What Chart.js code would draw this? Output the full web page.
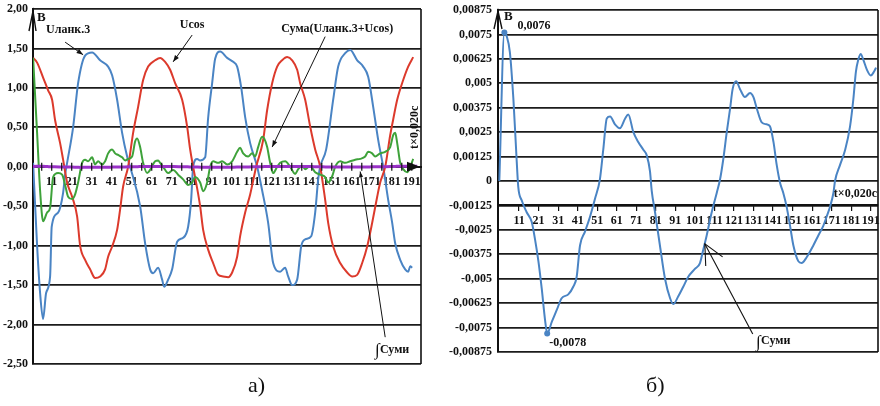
<!DOCTYPE html>
<html>
<head>
<meta charset="utf-8">
<script src="https://cdn.jsdelivr.net/npm/chart.js@4.4.0/dist/chart.umd.min.js"></script>
<style>
  body { margin: 0; background: #fff; width: 880px; height: 406px; position: relative; overflow: hidden; }
  .box { position: absolute; top: 0; }
  .cap { position: absolute; font: 22px "Liberation Serif", serif; color: #111; }
</style>
</head>
<body>
<div class="box" style="left:0"><canvas id="left" width="430" height="406"></canvas></div>
<div class="box" style="left:440px"><canvas id="right" width="440" height="406"></canvas></div>
<div class="cap" style="left:248px;top:372px">а)</div>
<div class="cap" style="left:646px;top:372px">б)</div>
<script>
// sample index (t x 0,020c) and voltages
const blueX = [1.7, 3.7, 5.2, 6.7, 8.2, 10.2, 11.0, 14.2, 16.7, 17.7, 18.7, 21.7, 24.2, 27.7, 31.2, 35.2, 39.2, 41.2, 43.7, 46.2, 48.7, 50.2, 55.2, 57.7, 60.2, 61.7, 64.2, 66.2, 67.2, 69.2, 71.2, 73.7, 76.7, 79.2, 80.7, 81.7, 83.7, 85.2, 87.7, 89.2, 91.2, 92.7, 95.2, 98.7, 101.7, 103.7, 105.7, 107.7, 110.2, 113.7, 116.2, 119.2, 121.7, 125.2, 127.7, 129.2, 131.2, 133.7, 135.7, 137.7, 140.7, 142.7, 144.2, 145.2, 148.2, 151.7, 154.2, 157.7, 160.2, 163.7, 166.7, 169.2, 171.7, 174.2, 176.7, 179.2, 181.2, 182.7, 185.2, 187.7, 189.2, 190.2, 191.2];
const blueY = [0.05, -1.0, -1.6, -1.93, -1.6, -1.39, -0.76, -0.58, -0.33, -0.1, 0.05, 0.5, 1.06, 1.41, 1.45, 1.35, 1.27, 1.16, 0.85, 0.43, 0.13, 0, -0.5, -0.97, -1.3, -1.35, -1.28, -1.43, -1.52, -1.43, -1.3, -0.95, -0.9, -0.76, -0.42, 0, 0.1, 0.08, 0.12, 0.62, 1.06, 1.37, 1.46, 1.38, 1.33, 1.27, 1.01, 0.63, 0.3, 0, -0.3, -0.71, -1.22, -1.33, -1.28, -1.39, -1.5, -1.43, -1.01, -0.92, -0.88, -0.58, -0.16, 0, 0.22, 0.85, 1.27, 1.44, 1.48, 1.35, 1.27, 1.14, 0.76, 0.34, 0, -0.42, -0.71, -0.97, -1.18, -1.3, -1.33, -1.26, -1.28];

const redX = [1.7, 3.7, 6.7, 9.2, 11.2, 12.7, 15.2, 16.7, 18.7, 21.2, 23.7, 25.2, 27.7, 30.2, 32.7, 35.2, 37.7, 39.2, 41.2, 43.7, 45.2, 46.7, 49.2, 51.7, 54.2, 56.7, 59.2, 62.7, 65.2, 67.7, 70.2, 72.7, 76.2, 78.7, 80.2, 81.7, 85.2, 86.7, 89.2, 91.7, 94.2, 96.7, 99.2, 101.2, 103.7, 105.2, 107.7, 110.2, 113.2, 116.7, 118.7, 121.2, 123.7, 126.2, 128.7, 131.2, 133.7, 135.2, 137.7, 140.2, 142.7, 145.2, 147.7, 149.2, 151.7, 155.2, 158.7, 161.2, 163.7, 166.2, 168.7, 171.2, 173.7, 175.2, 177.7, 180.2, 181.7, 183.7, 186.7, 189.2, 191.7];
const redY = [1.38, 1.32, 1.13, 0.97, 0.85, 0.59, 0.3, 0.09, -0.2, -0.38, -0.63, -1.0, -1.18, -1.3, -1.41, -1.39, -1.3, -1.14, -1.01, -0.8, -0.54, -0.25, 0, 0.43, 0.76, 1.1, 1.27, 1.35, 1.38, 1.33, 1.23, 1.06, 0.85, 0.51, 0.22, 0, -0.5, -0.8, -1.05, -1.22, -1.37, -1.39, -1.4, -1.34, -1.14, -0.88, -0.58, -0.35, 0, 0.34, 0.72, 1.06, 1.27, 1.35, 1.39, 1.35, 1.23, 1.06, 0.85, 0.51, 0.22, 0, -0.42, -0.71, -1.01, -1.22, -1.34, -1.39, -1.37, -1.22, -1.01, -0.71, -0.38, -0.2, 0, 0.4, 0.6, 0.85, 1.1, 1.27, 1.39];

const greenX = [1.7, 3.7, 5.2, 6.7, 8.7, 10.2, 11.7, 14.2, 16.2, 17.7, 19.2, 21.2, 22.7, 24.2, 26.2, 27.7, 29.2, 31.2, 32.7, 34.2, 36.2, 37.7, 39.2, 41.2, 42.7, 44.2, 46.2, 47.7, 49.2, 51.2, 52.7, 53.7, 55.2, 56.7, 58.7, 60.2, 62.7, 64.2, 65.2, 66.7, 69.2, 71.7, 74.2, 76.7, 79.2, 81.2, 82.7, 85.2, 86.7, 88.7, 90.2, 91.7, 94.2, 96.2, 98.7, 101.2, 103.7, 105.2, 106.7, 109.2, 111.2, 112.7, 114.2, 116.2, 117.2, 118.7, 120.2, 121.7, 123.7, 125.2, 127.7, 130.2, 132.7, 134.2, 136.2, 137.7, 140.2, 142.7, 145.2, 147.7, 149.2, 151.2, 152.7, 155.2, 157.7, 160.2, 162.7, 165.2, 167.7, 169.2, 171.2, 172.7, 175.2, 177.7, 180.2, 181.7, 182.7, 183.7, 185.2, 186.7, 188.7, 190.2, 191.7];
const greenY = [1.38, 0.43, -0.3, -0.69, -0.58, -0.52, -0.13, -0.08, -0.1, -0.23, -0.38, -0.41, -0.35, -0.2, 0.05, 0.09, 0.07, 0.12, 0.03, 0.07, 0.03, 0.07, 0.17, 0.22, 0.17, 0.15, 0.12, 0.08, 0.1, 0.13, 0.32, 0.36, 0.25, 0.05, -0.08, -0.04, 0.07, 0.08, 0.05, 0, -0.08, -0.04, -0.1, -0.16, -0.23, -0.2, -0.13, -0.2, -0.31, -0.2, 0, 0.07, 0.05, 0.07, 0.03, 0.07, 0.19, 0.24, 0.17, 0.13, 0.17, 0.13, 0.25, 0.38, 0.36, 0.25, 0.05, -0.08, 0, 0.05, 0.07, 0, -0.09, -0.03, 0.01, -0.03, 0.01, -0.07, -0.1, -0.13, -0.2, -0.12, 0, 0.07, 0.05, 0.07, 0.09, 0.1, 0.13, 0.19, 0.17, 0.13, 0.17, 0.19, 0.25, 0.4, 0.43, 0.3, 0.05, -0.03, -0.07, 0, 0.1];

// integral of the sum (right chart, also the flat purple line on the left)
const intX = [0.9, 3.5, 4.7, 6.3, 8.1, 9.5, 10.6, 12.4, 14.9, 17.5, 19.2, 20.9, 22.6, 24.3, 25.4, 27.8, 30.3, 32.8, 36.2, 38.8, 40.5, 42.2, 44.7, 47.4, 49.9, 52.4, 54.1, 55.9, 57.6, 60.1, 62.6, 65.3, 66.9, 69.5, 72.0, 74.6, 76.4, 78.0, 78.9, 80.6, 83.1, 85.7, 88.3, 89.9, 92.5, 95.1, 97.6, 101.0, 103.6, 105.3, 107.0, 109.6, 112.2, 113.9, 115.5, 117.3, 119.0, 120.3, 122.1, 124.1, 126.6, 129.2, 130.9, 132.7, 135.2, 137.7, 139.4, 141.2, 142.9, 144.6, 146.2, 147.9, 149.7, 151.4, 153.9, 155.6, 158.2, 161.6, 164.1, 166.7, 168.5, 170.2, 171.9, 172.7, 175.2, 177.9, 180.4, 182.1, 183.4, 184.6, 185.8, 187.2, 189.0, 191.0, 192.7, 193.7];
const intY = [0, 0.0076, 0.0074, 0.0066, 0.0042, 0.0016, -0.0003, -0.001, -0.0016, -0.0021, -0.003, -0.0041, -0.0055, -0.0071, -0.0078, -0.0072, -0.0066, -0.006, -0.0058, -0.0054, -0.0049, -0.0033, -0.0026, -0.0018, -0.0009, 0.0001, 0.0016, 0.0032, 0.0033, 0.0029, 0.0027, 0.0032, 0.0034, 0.0025, 0.002, 0.0016, 0.0013, 0.0005, -0.0005, -0.0016, -0.0033, -0.005, -0.006, -0.0063, -0.0059, -0.0054, -0.0049, -0.0045, -0.0042, -0.0035, -0.0028, -0.0016, -0.0006, 0.0001, 0.0011, 0.0025, 0.0037, 0.0047, 0.0051, 0.0047, 0.0043, 0.0045, 0.0043, 0.0037, 0.003, 0.0029, 0.0028, 0.002, 0.0008, -0.0001, -0.0006, -0.0013, -0.0023, -0.0033, -0.0041, -0.0042, -0.0039, -0.0033, -0.0028, -0.0023, -0.0018, -0.0013, -0.0006, 0, 0.0008, 0.0016, 0.0028, 0.0042, 0.0056, 0.0062, 0.0065, 0.0062, 0.0057, 0.0054, 0.0056, 0.0058];

// tick labels
const xTicks = [11, 21, 31, 41, 51, 61, 71, 81, 91, 101, 111, 121, 131, 141, 151, 161, 171, 181, 191];
const leftYTicks = [-2.5, -2, -1.5, -1, -0.5, 0, 0.5, 1, 1.5, 2];
const leftYLabels = ['-2,50', '-2,00', '-1,50', '-1,00', '-0,50', '0,00', '0,50', '1,00', '1,50', '2,00'];
const rightYTicks = [-0.00875, -0.0075, -0.00625, -0.005, -0.00375, -0.0025, -0.00125, 0, 0.00125, 0.0025, 0.00375, 0.005, 0.00625, 0.0075, 0.00875];
const rightYLabels = ['-0,00875', '-0,0075', '-0,00625', '-0,005', '-0,00375', '-0,0025', '-0,00125', '0', '0,00125', '0,0025', '0,00375', '0,005', '0,00625', '0,0075', '0,00875'];

const SERIF = '"Liberation Serif", "Times New Roman", serif';
const INK = '#111';
const pts = (xs, ys) => xs.map((x, k) => ({ x, y: ys[k] }));

function arrow(ctx, x1, y1, x2, y2, len, spread, filled) {
    const a = Math.atan2(y2 - y1, x2 - x1);
    ctx.beginPath(); ctx.moveTo(x1, y1); ctx.lineTo(x2, y2); ctx.stroke();
    ctx.beginPath();
    ctx.moveTo(x2 - len * Math.cos(a - spread), y2 - len * Math.sin(a - spread));
    ctx.lineTo(x2, y2);
    ctx.lineTo(x2 - len * Math.cos(a + spread), y2 - len * Math.sin(a + spread));
    if (filled) { ctx.closePath(); ctx.fill(); } else { ctx.stroke(); }
}

function integralLabel(ctx, text, px, py) {
    ctx.font = '17px ' + SERIF;
    ctx.fillText('∫', px, py + 1);
    ctx.font = 'bold 12px ' + SERIF;
    ctx.fillText(text, px + 5, py);
}

// callouts in data coordinates
const leftNotes = [
    { text: 'Uланк.3', x: 19.2, y: 1.73, from: [17.7, 1.58], to: [26.7, 1.42] },
    { text: 'Ucos', x: 81.2, y: 1.80, from: [81.2, 1.67], to: [71.7, 1.33] },
    { text: 'Сума(Uланк.3+Ucos)', x: 153.7, y: 1.75, from: [147.7, 1.65], to: [121.2, 0.25] }
];

const leftDeco = {
    id: 'leftDeco',
    afterDraw(chart) {
        const { ctx, chartArea: a, scales: { x, y } } = chart;
        const y0 = y.getPixelForValue(0);
        ctx.save();
        ctx.strokeStyle = INK; ctx.fillStyle = INK; ctx.lineWidth = 1.6;
        ctx.beginPath(); ctx.moveTo(a.right, a.top); ctx.lineTo(a.right, a.bottom); ctx.stroke();
        // tick marks crossing the time axis
        ctx.lineWidth = 1.2;
        xTicks.forEach(v => {
            [v - 5, v].forEach(t => {
                const px = x.getPixelForValue(t);
                ctx.beginPath(); ctx.moveTo(px, y0 - 4); ctx.lineTo(px, y0 + 4); ctx.stroke();
            });
        });
        // axis arrows
        ctx.lineWidth = 1.4;
        ctx.beginPath();
        ctx.moveTo(a.left - 4, a.top + 22); ctx.lineTo(a.left, a.top + 2); ctx.lineTo(a.left + 3, a.top + 22);
        ctx.stroke();
        ctx.beginPath();
        ctx.moveTo(a.right - 1, y0); ctx.lineTo(a.right - 14, y0 - 5); ctx.lineTo(a.right - 14, y0 + 5);
        ctx.closePath(); ctx.fill();
        ctx.font = 'bold 13px ' + SERIF;
        ctx.textAlign = 'left'; ctx.textBaseline = 'middle';
        ctx.fillText('В', a.left + 4, y.getPixelForValue(1.89));
        // rotated time label
        ctx.save();
        ctx.translate(x.getPixelForValue(192.4), y.getPixelForValue(0.5));
        ctx.rotate(-Math.PI / 2);
        ctx.font = 'bold 12px ' + SERIF;
        ctx.textAlign = 'center';
        ctx.fillText('t×0,020с', 0, 0);
        ctx.restore();
        // callouts
        ctx.lineWidth = 1;
        ctx.font = 'bold 12px ' + SERIF;
        ctx.textAlign = 'center';
        leftNotes.forEach(n => {
            ctx.fillText(n.text, x.getPixelForValue(n.x), y.getPixelForValue(n.y));
            arrow(ctx, x.getPixelForValue(n.from[0]), y.getPixelForValue(n.from[1]),
                x.getPixelForValue(n.to[0]), y.getPixelForValue(n.to[1]), 7, 0.35, true);
        });
        arrow(ctx, x.getPixelForValue(177.7), y.getPixelForValue(-2.16),
            x.getPixelForValue(165.2), y.getPixelForValue(-0.06), 6, 0.35, true);
        ctx.textAlign = 'left';
        integralLabel(ctx, 'Суми', x.getPixelForValue(172.6), y.getPixelForValue(-2.32));
        ctx.restore();
    }
};

const rightDeco = {
    id: 'rightDeco',
    afterDraw(chart) {
        const { ctx, chartArea: a, scales: { x, y } } = chart;
        ctx.save();
        ctx.strokeStyle = INK; ctx.fillStyle = INK; ctx.lineWidth = 1.6;
        ctx.beginPath(); ctx.moveTo(a.right, a.top); ctx.lineTo(a.right, a.bottom); ctx.stroke();
        ctx.lineWidth = 1.4;
        ctx.beginPath();
        ctx.moveTo(a.left - 4, a.top + 19); ctx.lineTo(a.left, a.top + 1); ctx.lineTo(a.left + 4, a.top + 19);
        ctx.stroke();
        ctx.font = 'bold 13px ' + SERIF;
        ctx.textBaseline = 'middle'; ctx.textAlign = 'left';
        ctx.fillText('В', a.left + 6, y.getPixelForValue(0.0084));
        // peak / trough values
        const iMax = intY.indexOf(Math.max(...intY));
        const iMin = intY.indexOf(Math.min(...intY));
        const fmt = v => String(v).replace('.', ',');
        ctx.font = 'bold 12px ' + SERIF;
        ctx.fillText(fmt(intY[iMax]), x.getPixelForValue(intX[iMax]) + 13, y.getPixelForValue(intY[iMax]) - 7);
        ctx.fillText(fmt(intY[iMin]), x.getPixelForValue(intX[iMin]) + 2, y.getPixelForValue(intY[iMin]) + 9);
        ctx.textAlign = 'right';
        ctx.fillText('t×0,020с', a.right - 1, y.getPixelForValue(-0.00067));
        ctx.textAlign = 'left';
        ctx.lineWidth = 1.1;
        arrow(ctx, x.getPixelForValue(130.6), y.getPixelForValue(-0.00783),
            x.getPixelForValue(106.1), y.getPixelForValue(-0.00322), 22, 0.45, false);
        integralLabel(ctx, 'Суми', x.getPixelForValue(132.3), y.getPixelForValue(-0.00819));
        ctx.restore();
    }
};

const lineBase = { borderWidth: 2, pointRadius: 0, cubicInterpolationMode: 'monotone', fill: false };

new Chart(document.getElementById('left'), {
    type: 'line',
    data: {
        datasets: [
            { ...lineBase, label: '∫Суми', data: pts(intX, intY), borderColor: '#9a32c8', borderWidth: 3 },
            { ...lineBase, label: 'Сума(Uланк.3+Ucos)', data: pts(greenX, greenY), borderColor: '#3ea23a' },
            { ...lineBase, label: 'Ucos', data: pts(redX, redY), borderColor: '#dc3a2c' },
            { ...lineBase, label: 'Uланк.3', data: pts(blueX, blueY), borderColor: '#4a84c4' }
        ]
    },
    options: {
        responsive: false,
        animation: false,
        layout: { padding: { top: 9, right: 9, bottom: 42, left: 0 } },
        plugins: { legend: { display: false }, tooltip: { enabled: false } },
        scales: {
            x: {
                type: 'linear',
                position: { y: 0 },
                min: 1.65, max: 195.6,
                afterBuildTicks: s => { s.ticks = xTicks.map(v => ({ value: v })); },
                afterFit: s => { s.paddingLeft = 0; s.paddingRight = 0; },
                grid: { drawOnChartArea: false, drawTicks: false },
                border: { color: INK, width: 2 },
                ticks: { color: INK, padding: 8, maxRotation: 0, autoSkip: false,
                    font: { family: SERIF, size: 12, weight: 'bold' } }
            },
            y: {
                min: -2.5, max: 2,
                afterBuildTicks: s => { s.ticks = leftYTicks.map(v => ({ value: v })); },
                afterFit: s => { s.width = 33; s.paddingTop = 0; s.paddingBottom = 0; },
                grid: { color: '#1c1c1c', lineWidth: 1.8, drawTicks: false },
                border: { color: INK, width: 2 },
                ticks: { color: INK, padding: 5, autoSkip: false,
                    callback: (v, i) => leftYLabels[i],
                    font: { family: SERIF, size: 12, weight: 'bold' } }
            }
        }
    },
    plugins: [leftDeco]
});

new Chart(document.getElementById('right'), {
    type: 'line',
    data: {
        datasets: [{
            ...lineBase,
            label: '∫Суми',
            data: pts(intX, intY),
            borderColor: '#4a84c4',
            pointBackgroundColor: '#4a84c4',
            pointBorderWidth: 0,
            pointRadius: ctx => {
                const v = intY[ctx.dataIndex];
                return (v === Math.max(...intY) || v === Math.min(...intY)) ? 3 : 0;
            }
        }]
    },
    options: {
        responsive: false,
        animation: false,
        layout: { padding: { top: 10, right: 2, bottom: 54, left: 0 } },
        plugins: { legend: { display: false }, tooltip: { enabled: false } },
        scales: {
            x: {
                type: 'linear',
                position: { y: -0.00125 },
                min: 0.23, max: 194.7,
                afterBuildTicks: s => { s.ticks = xTicks.map(v => ({ value: v })); },
                afterFit: s => { s.paddingLeft = 0; s.paddingRight = 0; },
                grid: { drawOnChartArea: false, tickLength: 5, color: INK, lineWidth: 1.2 },
                border: { color: INK, width: 2 },
                ticks: { color: INK, padding: 3, maxRotation: 0, autoSkip: false,
                    font: { family: SERIF, size: 12, weight: 'bold' } }
            },
            y: {
                min: -0.00875, max: 0.00875,
                afterBuildTicks: s => { s.ticks = rightYTicks.map(v => ({ value: v })); },
                afterFit: s => { s.width = 58; s.paddingTop = 0; s.paddingBottom = 0; },
                grid: { color: '#1c1c1c', lineWidth: 1.8, drawTicks: false },
                border: { color: INK, width: 2 },
                ticks: { color: INK, padding: 6, autoSkip: false,
                    callback: (v, i) => rightYLabels[i],
                    font: { family: SERIF, size: 12, weight: 'bold' } }
            }
        }
    },
    plugins: [rightDeco]
});
</script>
</body>
</html>
